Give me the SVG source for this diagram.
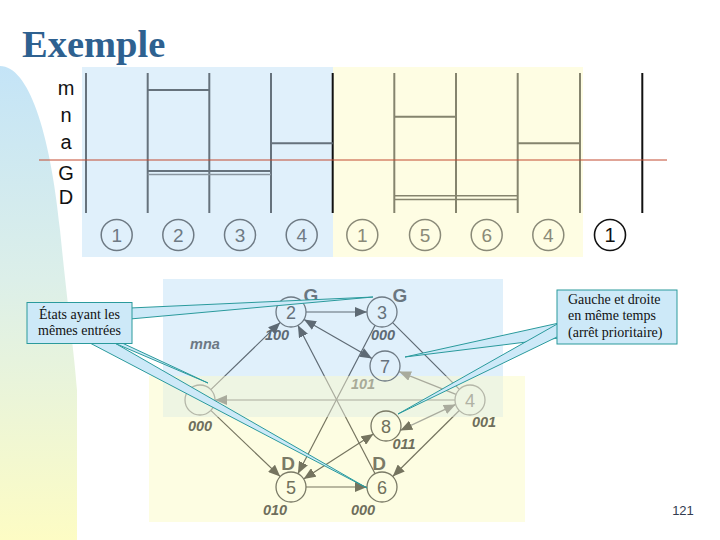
<svg xmlns="http://www.w3.org/2000/svg" width="720" height="540" viewBox="0 0 720 540">
<defs>
<linearGradient id="side" x1="0" y1="0" x2="0" y2="1">
<stop offset="0" stop-color="#c4e4f7"/>
<stop offset="0.45" stop-color="#dcefe9"/>
<stop offset="1" stop-color="#fdfcc4"/>
</linearGradient>
<linearGradient id="eg" gradientUnits="userSpaceOnUse" x1="0" y1="0" x2="0" y2="540">
<stop offset="0" stop-color="#5e6a74"/>
<stop offset="0.696" stop-color="#5e6a74"/>
<stop offset="0.697" stop-color="#a9ab9d"/>
<stop offset="0.772" stop-color="#a9ab9d"/>
<stop offset="0.773" stop-color="#75745f"/>
<stop offset="1" stop-color="#75745f"/>
</linearGradient>
<marker id="aS" markerUnits="userSpaceOnUse" markerWidth="12" markerHeight="10" viewBox="0 0 12 10" refX="12" refY="5" orient="auto-start-reverse"><path d="M0,0 L12,5 L0,10 z" fill="#5e6a74"/></marker>
<marker id="aO" markerUnits="userSpaceOnUse" markerWidth="12" markerHeight="10" viewBox="0 0 12 10" refX="12" refY="5" orient="auto-start-reverse"><path d="M0,0 L12,5 L0,10 z" fill="#75745f"/></marker>
<marker id="aL" markerUnits="userSpaceOnUse" markerWidth="12" markerHeight="10" viewBox="0 0 12 10" refX="12" refY="5" orient="auto-start-reverse"><path d="M0,0 L12,5 L0,10 z" fill="#a9ab9d"/></marker>
</defs>
<style>
.lbl{font-family:"Liberation Sans",Arial,sans-serif;font-size:20px;fill:#111;text-anchor:middle}
.vb{stroke:#66727c;stroke-width:2}
.vy{stroke:#85846e;stroke-width:2}
.vk{stroke:#111;stroke-width:2}
.cb{fill:none;stroke:#6e7a84;stroke-width:1.5}
.cy{fill:none;stroke:#8a8a78;stroke-width:1.5}
.tnb{font-family:"Liberation Sans",Arial,sans-serif;font-size:19px;fill:#6e7a84;text-anchor:middle}
.tny{font-family:"Liberation Sans",Arial,sans-serif;font-size:19px;fill:#8a8a78;text-anchor:middle}
.e{fill:none;stroke:url(#eg);stroke-width:1.2}
.nS{fill:none;stroke:#6e7a84;stroke-width:1.3}
.nO{fill:none;stroke:#7a7a66;stroke-width:1.3}
.nL{fill:none;stroke:#b4b6a8;stroke-width:1.3}
.dS{font-family:"Liberation Sans",Arial,sans-serif;font-size:18px;fill:#66727c;text-anchor:middle}
.dO{font-family:"Liberation Sans",Arial,sans-serif;font-size:18px;fill:#70705c;text-anchor:middle}
.dL{font-family:"Liberation Sans",Arial,sans-serif;font-size:18px;fill:#b0b2a4;text-anchor:middle}
.code{font-family:"Liberation Sans",Arial,sans-serif;font-size:14.5px;font-style:italic;font-weight:bold;text-anchor:middle}
.big{font-family:"Liberation Sans",Arial,sans-serif;font-size:19px;font-weight:bold;text-anchor:middle}
.co{fill:#cde9f8;stroke:#2a9a9c;stroke-width:1}
.ct{font-family:"Liberation Serif","Times New Roman",serif;font-size:14px;fill:#111}
</style>
<rect width="720" height="540" fill="#ffffff"/>
<path d="M0,66 C28,66 50,130 60,230 C68,310 75,360 77,390 L77,540 L0,540 Z" fill="url(#side)"/>
<text x="22" y="57" font-family="'Liberation Serif','Times New Roman',serif" font-size="38.5" font-weight="bold" fill="#2e6190">Exemple</text>

<!-- top chronogram -->
<g id="chronogram">
<rect x="82" y="67" width="251" height="190" fill="#e0f0fb"/>
<rect x="333" y="67" width="250" height="190" fill="#fefde3"/>
<text class="lbl" x="66" y="95">m</text>
<text class="lbl" x="66" y="122">n</text>
<text class="lbl" x="66" y="149">a</text>
<text class="lbl" x="66" y="180">G</text>
<text class="lbl" x="66" y="204">D</text>
<line class="vb" x1="86" y1="73" x2="86" y2="213"/>
<line class="vb" x1="147.7" y1="73" x2="147.7" y2="213"/>
<line class="vb" x1="209.3" y1="73" x2="209.3" y2="213"/>
<line class="vb" x1="271" y1="73" x2="271" y2="213"/>
<line class="vk" x1="332.7" y1="73" x2="332.7" y2="213"/>
<line class="vy" x1="394.3" y1="73" x2="394.3" y2="213"/>
<line class="vy" x1="456" y1="73" x2="456" y2="213"/>
<line class="vy" x1="517.7" y1="73" x2="517.7" y2="213"/>
<line class="vy" x1="580" y1="73" x2="580" y2="213"/>
<line class="vk" x1="642.3" y1="73" x2="642.3" y2="213"/>
<line class="vb" x1="147.7" y1="90" x2="209.3" y2="90"/>
<line class="vb" x1="271" y1="143.3" x2="332.7" y2="143.3"/>
<line stroke="#66727c" stroke-width="2" x1="147.7" y1="171" x2="271" y2="171"/>
<line stroke="#8a96a0" stroke-width="1.3" x1="147.7" y1="174.5" x2="271" y2="174.5"/>
<line class="vy" x1="394.3" y1="116.7" x2="456" y2="116.7"/>
<line class="vy" x1="517.7" y1="143.3" x2="580" y2="143.3"/>
<line stroke="#85846e" stroke-width="1.6" x1="394.3" y1="195.7" x2="517.7" y2="195.7"/>
<line stroke="#85846e" stroke-width="1.6" x1="394.3" y1="199.5" x2="517.7" y2="199.5"/>
<line stroke="#c24a30" stroke-width="1" x1="39" y1="160" x2="667" y2="160"/>
<g id="t1"><circle class="cb" cx="116.7" cy="235" r="15.5"/><text class="tnb" x="116.7" y="242">1</text></g>
<g id="t2"><circle class="cb" cx="178.3" cy="235" r="15.5"/><text class="tnb" x="178.3" y="242">2</text></g>
<g id="t3"><circle class="cb" cx="240" cy="235" r="15.5"/><text class="tnb" x="240" y="242">3</text></g>
<g id="t4"><circle class="cb" cx="301.7" cy="235" r="15.5"/><text class="tnb" x="301.7" y="242">4</text></g>
<g id="t5"><circle class="cy" cx="362.3" cy="235" r="15.5"/><text class="tny" x="362.3" y="242">1</text></g>
<g id="t6"><circle class="cy" cx="425" cy="235" r="15.5"/><text class="tny" x="425" y="242">5</text></g>
<g id="t7"><circle class="cy" cx="486.7" cy="235" r="15.5"/><text class="tny" x="486.7" y="242">6</text></g>
<g id="t8"><circle class="cy" cx="548.3" cy="235" r="15.5"/><text class="tny" x="548.3" y="242">4</text></g>
<g id="t9"><circle fill="none" stroke="#111" stroke-width="1.6" cx="610" cy="235" r="15.5"/><text class="lbl" x="610" y="242" font-size="19">1</text></g>
</g>

<!-- state graph background -->
<rect x="149" y="376" width="376" height="146" fill="#fdfde2"/>
<rect x="163" y="279" width="340" height="138" fill="#e0f0fb"/>
<rect x="163" y="376" width="340" height="41" fill="#eef5e3"/>
<text class="code" x="205" y="349" font-size="15.5" fill="#6c7884">mna</text>

<g id="connectors">
<line class="e" x1="306" y1="312" x2="367" y2="312" marker-end="url(#aS)"/>
<line class="e" x1="210.8" y1="389.6" x2="280.2" y2="322.4" marker-end="url(#aS)"/>
<line class="e" x1="304" y1="319.5" x2="372" y2="358.5" marker-start="url(#aS)" marker-end="url(#aS)"/>
<line class="e" x1="375.1" y1="473.7" x2="297.9" y2="325.3" marker-end="url(#aS)"/>
<line class="e" x1="375.1" y1="325.3" x2="297.9" y2="473.7" marker-end="url(#aO)"/>
<line class="e" x1="392.6" y1="322.6" x2="459.4" y2="389.4"/>
<line stroke="#a9ab9d" stroke-width="1.2" x1="456" y1="394.4" x2="399" y2="371.6" marker-end="url(#aL)"/>
<line stroke="#a9ab9d" stroke-width="1.2" x1="455" y1="400" x2="215" y2="400" marker-end="url(#aL)"/>
<line stroke="#a9ab9d" stroke-width="1.2" x1="455.7" y1="404.4" x2="400.3" y2="430.4" marker-start="url(#aL)" marker-end="url(#aO)"/>
<line class="e" x1="459.3" y1="410.5" x2="392.7" y2="476.5" marker-end="url(#aO)"/>
<line class="e" x1="210.8" y1="410.4" x2="280.2" y2="476.6" marker-end="url(#aO)"/>
<line class="e" x1="303.6" y1="478.9" x2="373.4" y2="434.1" marker-start="url(#aO)" marker-end="url(#aO)"/>
<line class="e" x1="306" y1="487" x2="367" y2="487" marker-end="url(#aO)"/>
</g>

<g id="n1"><circle class="nL" cx="200" cy="400" r="15"/><text class="code" x="200" y="431" fill="#6e6e5c">000</text></g>
<g id="n2"><circle class="nS" cx="291" cy="312" r="15"/><text class="dS" x="291" y="318.5">2</text><text class="big" x="311" y="302" font-size="18" fill="#6a7680">G</text><text class="code" x="277" y="340" fill="#5d6a74">100</text></g>
<g id="n3"><circle class="nS" cx="382" cy="312" r="15"/><text class="dS" x="382" y="318.5">3</text><text class="big" x="400" y="302" font-size="18" fill="#6a7680">G</text><text class="code" x="383" y="340" fill="#5d6a74">000</text></g>
<g id="n7"><circle class="nS" cx="385" cy="366" r="15"/><text class="dS" x="385" y="372.5">7</text><text class="code" x="363" y="389" fill="#a8aa98">101</text></g>
<g id="n4"><circle class="nL" cx="470" cy="400" r="15"/><text class="dL" x="470" y="406.5">4</text><text class="code" x="484" y="427" fill="#6e6e5c">001</text></g>
<g id="n8"><circle class="nO" cx="386" cy="426" r="15"/><text class="dO" x="386" y="432.5">8</text><text class="code" x="404" y="448.5" fill="#6e6e5c">011</text></g>
<g id="n5"><circle class="nO" cx="291" cy="487" r="15"/><text class="dO" x="291" y="493.5">5</text><text class="big" x="288" y="470" fill="#7a7a66">D</text><text class="code" x="275" y="515" fill="#6e6e5c">010</text></g>
<g id="n6"><circle class="nO" cx="382" cy="487" r="15"/><text class="dO" x="382" y="493.5">6</text><text class="big" x="379" y="470" fill="#7a7a66">D</text><text class="code" x="363" y="515" fill="#6e6e5c">000</text></g>

<!-- callouts -->
<g id="callout-left">
<polygon class="co" points="130,308 373,297 130,319"/>
<polygon class="co" points="88,342 367,488 113,342"/>
<polygon class="co" points="112,342 208,383 120,342"/>
<rect class="co" x="27" y="302.5" width="105" height="41"/>
<text class="ct" x="79.5" y="318.5" text-anchor="middle">États ayant les</text>
<text class="ct" x="79.5" y="335" text-anchor="middle">mêmes entrées</text>
</g>
<g id="callout-right">
<polygon class="co" points="559,323 405,357 559,338"/>
<polygon class="co" points="559,323 398,414 559,336"/>
<rect class="co" x="557" y="290" width="120" height="54"/>
<text class="ct" x="568" y="303.5">Gauche et droite</text>
<text class="ct" x="568" y="320">en même temps</text>
<text class="ct" x="568" y="337">(arrêt prioritaire)</text>
</g>

<text x="683" y="515" font-family="'Liberation Sans',Arial,sans-serif" font-size="13" fill="#333c50" text-anchor="middle">121</text>
</svg>
